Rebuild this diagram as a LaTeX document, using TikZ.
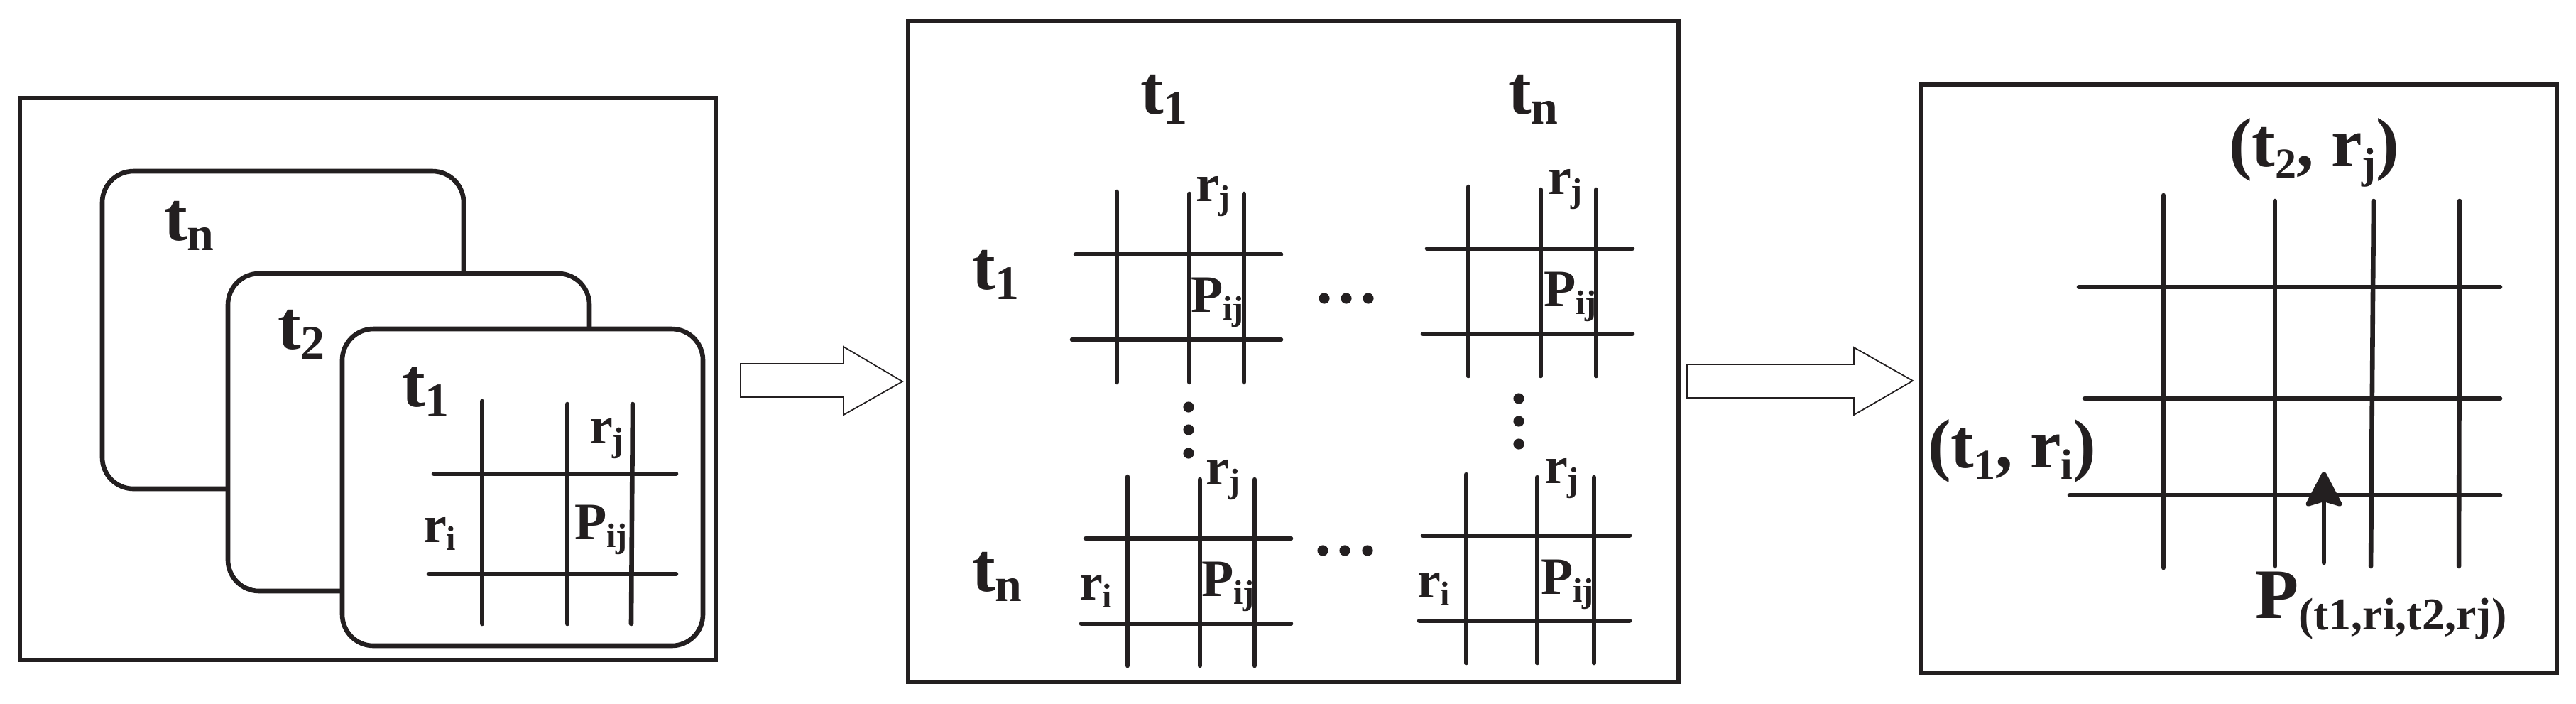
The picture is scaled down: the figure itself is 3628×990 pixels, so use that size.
\documentclass[tikz,border=0pt]{standalone}
\usepackage{fontspec}
\setmainfont{Liberation Serif}
\usetikzlibrary{arrows.meta}
\definecolor{ink}{RGB}{35,31,32}
\newcommand{\BIG}{\fontsize{24.5pt}{28pt}\selectfont}
\newcommand{\MID}{\fontsize{18.5pt}{22pt}\selectfont}
\newcommand{\lowsub}[3]{\raisebox{-#2}{\fontsize{#1}{#1}\selectfont #3}}
\newcommand{\tsub}[1]{\lowsub{17pt}{3.5pt}{#1}}
\newcommand{\msub}[1]{\lowsub{12pt}{2.75pt}{#1}}
\newcommand{\rsub}[1]{\lowsub{15pt}{4pt}{#1}}
\begin{document}
\begin{tikzpicture}[x=0.25pt,y=-0.25pt,
  thick line/.style={line width=1.65pt,draw=ink},
  gridline/.style={line width=1.65pt,draw=ink,line cap=round},
  blockarrow/.style={line width=0.45pt,draw=ink,fill=white,line join=miter},
  layer/.style={line width=1.65pt,draw=ink,fill=white,rounded corners=11pt},
  lbl/.style={inner sep=0pt,outer sep=0pt,anchor=base west,text=ink,font=\bfseries},
  dotmark/.style={circle,fill=ink,inner sep=0pt,minimum size=3.8pt}]
\useasboundingbox (0,0) rectangle (3628,990);
\fill[white] (0,0) rectangle (3628,990);

% ---------- left panel ----------
\draw[thick line] (28,138) rectangle (1008,929);
\draw[layer] (144,241) rectangle (653,688);
\draw[layer] (321,385) rectangle (830,832);
\draw[layer] (482,463) rectangle (990,909);
\node[lbl] (Ltn) at (231,338) {\BIG t\tsub{n}};
\node[lbl] (Lt2) at (391,491) {\BIG t\tsub{2}};
\node[lbl] (Lt1) at (566,572) {\BIG t\tsub{1}};
\draw[gridline] (679,565) -- (679,878);
\draw[gridline] (799,569) -- (799,878);
\draw[gridline] (891,569) -- (889,878);
\draw[gridline] (611,667) -- (952,667);
\draw[gridline] (604,808) -- (952,808);
\node[lbl] (Lrj) at (830,624) {\MID r\msub{j}};
\node[lbl] (Lri) at (596,763) {\MID r\msub{i}};
\node[lbl] (LP) at (809,759) {\MID P\msub{ij}};

% ---------- arrow 1 ----------
\draw[blockarrow] (1043,512) -- (1188,512) -- (1188,488) -- (1271,537) -- (1188,584) -- (1188,559) -- (1043,559) -- cycle;

% ---------- middle panel ----------
\draw[thick line] (1279,30) rectangle (2364,960);
\node[lbl] (Mh1) at (1606,160) {\BIG t\tsub{1}};
\node[lbl] (Mhn) at (2124,160) {\BIG t\tsub{n}};
\node[lbl] (Mr1) at (1369,407) {\BIG t\tsub{1}};
\node[lbl] (Mrn) at (1369,832) {\BIG t\tsub{n}};
% grid 1 (top-left)
\draw[gridline] (1573,270) -- (1573,538);
\draw[gridline] (1675,273) -- (1675,538);
\draw[gridline] (1752,273) -- (1752,538);
\draw[gridline] (1515,358) -- (1804,358);
\draw[gridline] (1510,478) -- (1804,478);
\node[lbl] (G1rj) at (1684,283) {\MID r\msub{j}};
\node[lbl] (G1P) at (1677,439) {\MID P\msub{ij}};
% grid 2 (top-right)
\draw[gridline] (2068,263) -- (2068,529);
\draw[gridline] (2170,267) -- (2170,529);
\draw[gridline] (2248,267) -- (2248,529);
\draw[gridline] (2010,350) -- (2299,350);
\draw[gridline] (2004,470) -- (2299,470);
\node[lbl] (G2rj) at (2180,273) {\MID r\msub{j}};
\node[lbl] (G2P) at (2174,431) {\MID P\msub{ij}};
% grid 3 (bottom-left)
\draw[gridline] (1588,671) -- (1588,937);
\draw[gridline] (1690,675) -- (1690,937);
\draw[gridline] (1767,675) -- (1767,937);
\draw[gridline] (1529,758) -- (1818,758);
\draw[gridline] (1523,878) -- (1818,878);
\node[lbl] (G3rj) at (1698,682) {\MID r\msub{j}};
\node[lbl] (G3ri) at (1520,844) {\MID r\msub{i}};
\node[lbl] (G3P) at (1692,839) {\MID P\msub{ij}};
% grid 4 (bottom-right)
\draw[gridline] (2065,668) -- (2065,933);
\draw[gridline] (2165,672) -- (2165,933);
\draw[gridline] (2245,672) -- (2245,933);
\draw[gridline] (2004,754) -- (2295,754);
\draw[gridline] (1999,874) -- (2295,874);
\node[lbl] (G4rj) at (2175,680) {\MID r\msub{j}};
\node[lbl] (G4ri) at (1996,841) {\MID r\msub{i}};
\node[lbl] (G4P) at (2170,836) {\MID P\msub{ij}};
% dots
\node[dotmark] (h11) at (1865,420) {};
\node[dotmark] (h12) at (1896,420) {};
\node[dotmark] (h13) at (1927,420) {};
\node[dotmark] (h21) at (1863,775) {};
\node[dotmark] (h22) at (1894,775) {};
\node[dotmark] (h23) at (1926,775) {};
\node[dotmark] (v11) at (1674,573) {};
\node[dotmark] (v12) at (1674,605) {};
\node[dotmark] (v13) at (1674,638) {};
\node[dotmark] (v21) at (2139,561) {};
\node[dotmark] (v22) at (2139,593) {};
\node[dotmark] (v23) at (2139,625) {};

% ---------- arrow 2 ----------
\draw[blockarrow] (2376,513) -- (2611,513) -- (2611,489) -- (2694,536) -- (2611,584) -- (2611,560) -- (2376,560) -- cycle;

% ---------- right panel ----------
\draw[thick line] (2706,119) rectangle (3601,947);
\draw[gridline] (3047,275) -- (3047,799);
\draw[gridline] (3204,283) -- (3204,797);
\draw[gridline] (3343,283) -- (3339,797);
\draw[gridline] (3464,283) -- (3463,797);
\draw[gridline] (2928,404) -- (3521,404);
\draw[gridline] (2936,561) -- (3521,561);
\draw[gridline] (2915,697) -- (3521,697);
\node[lbl] (Rt2) at (3139,234) {\BIG (t\rsub{2}, r\rsub{j})};
\node[lbl] (Rt1) at (2715,658) {\BIG (t\rsub{1}, r\rsub{i})};
\node[lbl] (RP) at (3176,870) {\fontsize{25pt}{28pt}\selectfont P\lowsub{16pt}{4pt}{(t1,ri,t2,rj)}};
\coordinate (arrS) at (3273,792);
\coordinate (arrE) at (3273,664);
\draw[line width=1.65pt,draw=ink,line cap=round,-{Stealth[length=13.5pt,width=14pt,inset=2pt,round=false]}] (arrS) -- (arrE);
\end{tikzpicture}
\end{document}
